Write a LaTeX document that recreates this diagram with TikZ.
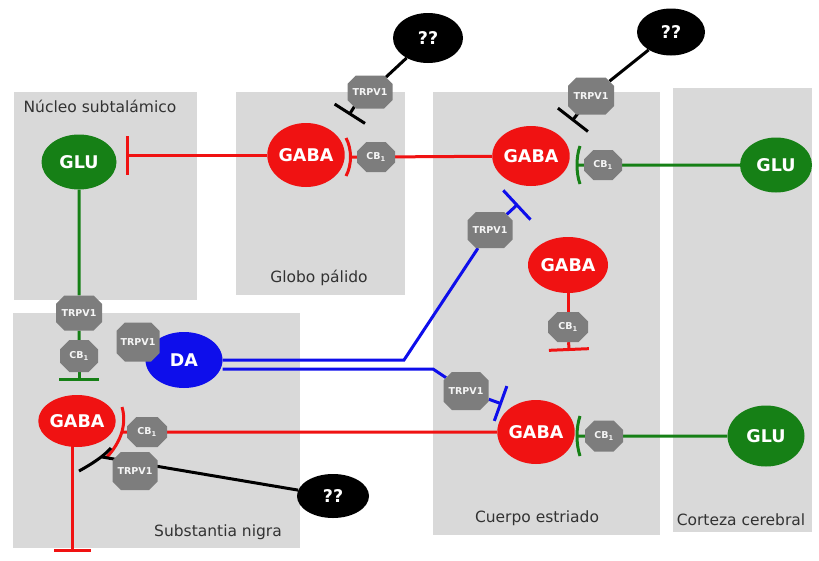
\documentclass[tikz,border=0pt]{standalone}
\usepackage{fontspec}
\setmainfont{DejaVu Sans}
\usetikzlibrary{shapes.geometric,shapes.misc,arrows.meta,calc}
\definecolor{cred}{RGB}{240,18,18}
\definecolor{cgreen}{RGB}{22,128,22}
\definecolor{cblue}{RGB}{14,14,235}
\definecolor{cpanel}{RGB}{217,217,217}
\definecolor{cbox}{RGB}{125,125,125}
\definecolor{ctext}{RGB}{50,50,50}
\pgfdeclarelayer{bg}
\pgfdeclarelayer{edges}
\pgfsetlayers{bg,edges,main}
\begin{document}
\begin{tikzpicture}[x=1pt,y=-1pt,
 panel/.style={fill=cpanel},
 lab/.style={text=ctext,font=\fontsize{15.5}{18}\selectfont,inner sep=0pt},
 cell/.style={ellipse,inner sep=0pt,text=white,font=\fontsize{17.5}{20}\selectfont\bfseries},
 glu/.style={cell,fill=cgreen},
 gaba/.style={cell,fill=cred},
 dan/.style={cell,fill=cblue},
 unk/.style={cell,fill=black},
 recep/.style={chamfered rectangle,chamfered rectangle xsep=5pt,chamfered rectangle ysep=5pt,fill=cbox,text=white!92!cbox,inner sep=0pt},
 trp/.style={recep,minimum width=45pt,minimum height=36pt,font=\fontsize{9.5}{11}\selectfont\bfseries},
 cbr/.style={recep,minimum width=38pt,minimum height=31pt,font=\fontsize{9.5}{11}\selectfont\bfseries},
 rl/.style={draw=cred,line width=3pt},
 gl/.style={draw=cgreen,line width=3pt},
 bl/.style={draw=cblue,line width=3pt},
 kl/.style={draw=black,line width=3pt},
]
\useasboundingbox (0,0) rectangle (819,560);
\begin{pgfonlayer}{bg}
 \fill[panel] (14,92) rectangle (197,300);
 \fill[panel] (236,92) rectangle (405,295);
 \fill[panel] (433,92) rectangle (660,535);
 \fill[panel] (673,88) rectangle (812,532);
 \fill[panel] (13,313) rectangle (300,548);
\end{pgfonlayer}

% region labels
\node[lab] (lstn) at (100,106) {Núcleo subtalámico};
\node[lab] (lgp) at (319,278) {Globo pálido};
\node[lab] (lsn) at (218,532) {Substantia nigra};
\node[lab] (lstr) at (537,518) {Cuerpo estriado};
\node[lab] (lcx) at (741,520) {Corteza cerebral};

% cells
\node[glu,minimum width=75pt,minimum height=55pt] (GLUstn) at (79,162) {GLU};
\node[gaba,minimum width=68pt,minimum height=64pt] (GABAgp) at (306,155) {GABA};
\node[gaba,minimum width=73pt,minimum height=60pt] (GABAs1) at (531,156) {GABA};
\node[glu,minimum width=72pt,minimum height=55pt] (GLUc1) at (776,165) {GLU};
\node[gaba,minimum width=80pt,minimum height=56pt] (GABAs2) at (568,265) {GABA};
\node[dan,minimum width=77pt,minimum height=56pt] (DA) at (184,360) {DA};
\node[gaba,minimum width=77pt,minimum height=52pt] (GABAsn) at (77,421) {GABA};
\node[gaba,minimum width=72pt,minimum height=64pt] (GABAs3) at (536,432) {GABA};
\node[glu,minimum width=77pt,minimum height=61pt] (GLUc2) at (766,436) {GLU};
\node[unk,minimum width=70pt,minimum height=50pt] (Q1) at (428,38) {??};
\node[unk,minimum width=68pt,minimum height=47pt] (Q2) at (671,32) {??};
\node[unk,minimum width=72pt,minimum height=44pt] (Q3) at (333,496) {??};

% receptors
\node[trp,minimum height=33pt] (TRgp) at (370,92) {TRPV1};
\node[cbr,minimum height=30pt] (CBgp) at (376,157) {CB\textsubscript{1}};
\node[trp,minimum width=46pt,minimum height=37pt] (TRs1) at (591,96) {TRPV1};
\node[cbr,minimum height=30pt] (CBs1) at (603,165) {CB\textsubscript{1}};
\node[trp] (TRs2) at (490,230) {TRPV1};
\node[cbr,minimum width=40pt,minimum height=30pt] (CBs2) at (568,327) {CB\textsubscript{1}};
\node[trp,minimum height=38pt] (TRs3) at (466,391) {TRPV1};
\node[cbr] (CBs3) at (604,436) {CB\textsubscript{1}};
\node[trp,minimum width=46pt,minimum height=35pt] (TRsn1) at (79,313) {TRPV1};
\node[cbr,minimum height=32pt] (CBsn1) at (79,356) {CB\textsubscript{1}};
\node[trp,minimum width=43pt,minimum height=39pt] (TRda) at (138,342) {TRPV1};
\node[cbr,minimum width=40pt,minimum height=30pt] (CBsn2) at (147,432) {CB\textsubscript{1}};
\node[trp,minimum height=38pt] (TRsn2) at (135,471) {TRPV1};

% free ends
\coordinate (bstn) at (126,155);
\coordinate (rgp) at (349,157);
\coordinate (sgp) at (356,104);
\coordinate (bgp) at (349,115);
\coordinate (sstr) at (579,112);
\coordinate (bstr) at (572,121);
\coordinate (gs1) at (578,165);
\coordinate (bend1) at (404,360);
\coordinate (bs2) at (518,204);
\coordinate (bend2) at (433,369);
\coordinate (bs3) at (502,404);
\coordinate (rs2) at (569,351);
\coordinate (rsn) at (123,432);
\coordinate (gs3) at (578,436);
\coordinate (gsn) at (79,381);
\coordinate (rdown) at (72,552);
\coordinate (ksn) at (102,457);

\begin{pgfonlayer}{edges}
 % red
 \draw[rl,-{Bar[width=39pt]}] (GABAgp) -- (bstn);
 \draw[rl] (GABAs1) -- (CBgp);
 \draw[rl] (CBgp) -- (rgp);
 \draw[rl] ([shift={(-3,-19)}]rgp) .. controls ([shift={(3,-8)}]rgp) and ([shift={(3,8)}]rgp) .. ([shift={(-3,19)}]rgp);
 \draw[rl] (GABAs2) -- (CBs2);
 \draw[rl,-{Bar[width=40pt]}] (CBs2) -- (rs2);
 \draw[rl] (GABAs3) -- (CBsn2);
 \draw[rl] (CBsn2) -- (rsn);
 \draw[rl] (122,407) .. controls (127,424) and (121,442) .. (107,457);
 \draw[rl,-{Bar[width=37pt]}] ([xshift=-5pt]GABAsn.center) -- (rdown);
 % green
 \draw[gl] (GLUc1) -- (CBs1);
 \draw[gl] (CBs1) -- (gs1);
 \draw[gl] ([shift={(2,-19)}]gs1) .. controls ([shift={(-2,-8)}]gs1) and ([shift={(-2,8)}]gs1) .. ([shift={(2,19)}]gs1);
 \draw[gl] (GLUc2) -- (CBs3);
 \draw[gl] (CBs3) -- (gs3);
 \draw[gl] ([shift={(2,-20)}]gs3) .. controls ([shift={(-2,-8)}]gs3) and ([shift={(-2,8)}]gs3) .. ([shift={(2,20)}]gs3);
 \draw[gl] (GLUstn) -- (TRsn1) -- (CBsn1);
 \draw[gl,-{Bar[width=40pt]}] (CBsn1) -- (gsn);
 % blue
 \draw[bl] (DA.east) -- (bend1) -- (TRs2);
 \draw[bl,-{Bar[width=40pt]}] (TRs2) -- (bs2);
 \draw[bl] ([yshift=-9pt]DA.east) -- (bend2) -- (TRs3);
 \draw[bl,-{Bar[width=37pt]}] (TRs3) -- (bs3);
 % black
 \draw[kl] (Q1) -- (TRgp);
 \draw[kl,-{Bar[width=36pt]}] (sgp) -- (bgp);
 \draw[kl] (Q2) -- (TRs1);
 \draw[kl,-{Bar[width=38pt]}] (sstr) -- (bstr);
 \draw[kl] (Q3) -- (ksn);
 \draw[kl] (79,471) .. controls (90,465) and (103,457) .. (111,448);
\end{pgfonlayer}
\end{tikzpicture}
\end{document}
